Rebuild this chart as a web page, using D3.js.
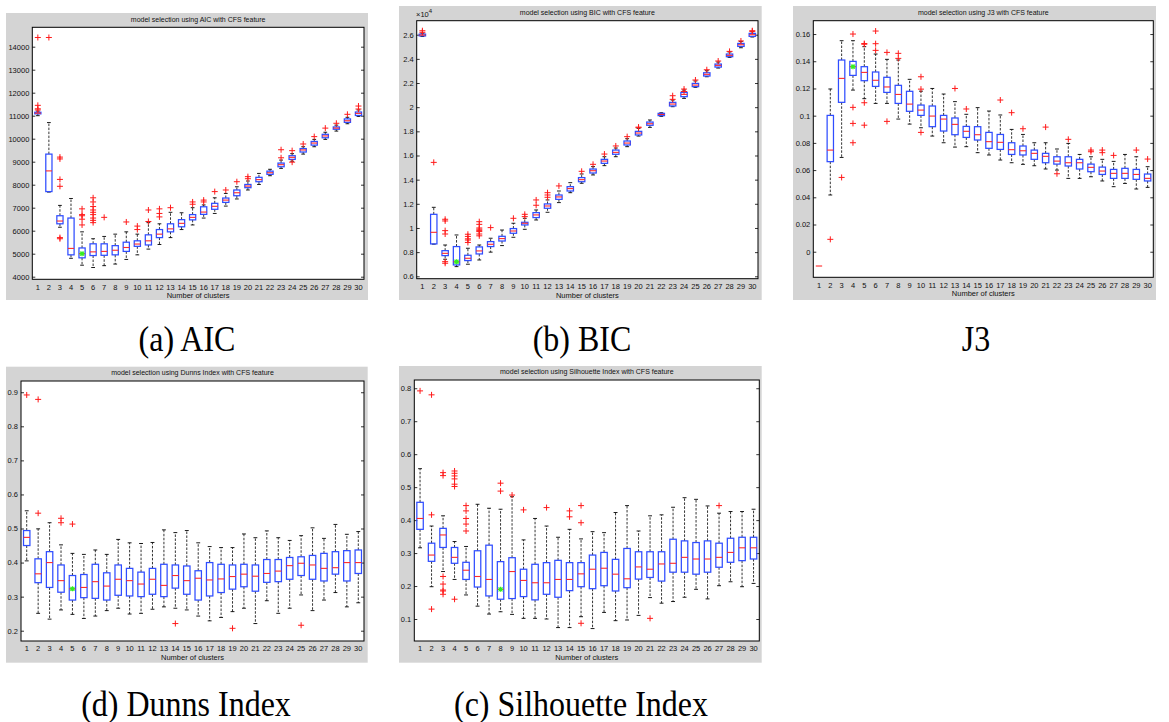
<!DOCTYPE html>
<html><head><meta charset="utf-8">
<script src="https://cdn.jsdelivr.net/npm/d3@7"></script>
<style>body{margin:0;background:#fff} svg{display:block}</style>
</head><body><svg id="c" width="1169" height="722"></svg>
<script>
const clusters = ["1","2","3","4","5","6","7","8","9","10","11","12","13","14","15","16","17","18","19","20","21","22","23","24","25","26","27","28","29","30"];

// ---- AIC ----
const aicLow  = [11000,7680,6150,4800,4500,4400,4480,4550,4750,4950,5200,5400,5700,6050,6250,6550,6750,7070,7380,7770,8010,8390,8710,9020,9330,9650,9970,10330,10650,10970];
const aicQ1   = [11080,7700,6300,4950,4820,4920,4930,4950,5100,5320,5380,5700,5950,6170,6470,6710,6930,7230,7520,7870,8130,8450,8780,9100,9420,9720,10040,10410,10710,11010];
const aicMed  = [11110,8600,6420,5230,5000,5080,5100,5150,5270,5420,5560,5850,6080,6320,6580,6810,7060,7330,7650,7940,8220,8520,8870,9190,9510,9810,10120,10460,10780,11100];
const aicQ3   = [11150,9330,6650,6550,5250,5430,5430,5350,5500,5560,5820,6050,6300,6480,6700,7040,7190,7420,7770,8010,8320,8590,8940,9260,9570,9880,10190,10510,10860,11160];
const aicHigh = [11200,10700,7100,7400,5950,5650,5750,5850,5950,5850,6350,6300,6800,6780,7000,7120,7430,7620,7910,8160,8490,8670,9070,9350,9650,9970,10280,10590,10930,11250];
const aicOut  = [[14400,11450,11300,11250],[14400],[9200,9120,8230,7930,5700,5650],[],[6950,6700,6650,6500,6250],[7430,7250,7050,6900,6800,6700,6550,6450,6350],[6580],[],[6380],[6200,6050],[6900,6400],[6950,6750,6600],[7000],[],[7250,7150],[7330,7250],[7700],[7770],[8130],[8350,8260],[],[],[9520,9170],[9480,8980],[9770],[10090],[10460],[10670],[11060],[11420,11290]];
const aicTicks = [4000,5000,6000,7000,8000,9000,10000,11000,12000,13000,14000];
const aicBest = "5";

// ---- BIC (x 10^4) ----
const bicLow  = [2.585,0.866,0.741,0.68,0.70,0.735,0.80,0.854,0.923,0.989,1.066,1.13,1.21,1.292,1.37,1.439,1.516,1.59,1.673,1.761,1.833,1.924,2.004,2.073,2.164,2.252,2.324,2.412,2.492,2.581];
const bicQ1   = [2.59,0.868,0.771,0.694,0.73,0.785,0.846,0.892,0.956,1.025,1.086,1.163,1.237,1.306,1.383,1.455,1.535,1.61,1.687,1.77,1.85,1.93,2.01,2.087,2.17,2.258,2.332,2.418,2.503,2.586];
const bicMed  = [2.597,0.964,0.79,0.72,0.749,0.81,0.865,0.912,0.975,1.039,1.108,1.182,1.257,1.326,1.4,1.474,1.554,1.626,1.703,1.786,1.863,1.94,2.026,2.106,2.183,2.272,2.346,2.429,2.517,2.6];
const bicQ3   = [2.605,1.113,0.812,0.846,0.774,0.843,0.887,0.931,0.995,1.047,1.127,1.199,1.273,1.342,1.417,1.488,1.568,1.645,1.72,1.8,1.877,1.949,2.04,2.123,2.197,2.285,2.357,2.44,2.528,2.611];
const bicHigh = [2.612,1.171,0.859,0.942,0.832,0.859,0.915,0.983,1.039,1.08,1.149,1.232,1.306,1.375,1.447,1.508,1.59,1.662,1.739,1.825,1.894,1.954,2.059,2.142,2.217,2.302,2.374,2.457,2.545,2.625];
const bicOut  = [[2.633,2.62],[1.543],[1.072,1.058,0.978,0.95,0.721,0.708],[],[0.948,0.93,0.91,0.90,0.88],[1.052,1.03,1.0,0.99,0.98,0.97,0.95,0.935],[1.003],[],[1.08],[1.113,1.094],[1.232,1.188],[1.292,1.273,1.254],[1.348],[],[1.469],[1.527],[1.612],[1.679],[1.756],[1.835,1.83],[],[],[2.095,2.065],[2.15,2.13],[2.225],[2.31],[2.382],[2.462],[2.548],[2.633,2.628]];
const bicTicks = [0.6,0.8,1,1.2,1.4,1.6,1.8,2,2.2,2.4,2.6];
const bicBest = "4";

// ---- J3 ----
const j3Low  = [-0.0105,0.0417,0.0693,0.1188,0.1125,0.109,0.109,0.0975,0.0938,0.0911,0.085,0.0801,0.0769,0.0772,0.0728,0.0711,0.0674,0.0654,0.0642,0.0632,0.0608,0.06,0.0539,0.0539,0.0551,0.052,0.0478,0.0502,0.0461,0.0473];
const j3Q1   = [-0.0105,0.0662,0.1098,0.1296,0.1257,0.1215,0.1171,0.109,0.1032,0.1002,0.0919,0.0887,0.086,0.084,0.0821,0.076,0.0752,0.0715,0.0711,0.0679,0.0654,0.0644,0.063,0.0608,0.0588,0.0568,0.0539,0.0539,0.0532,0.052];
const j3Med  = [-0.0105,0.0747,0.1274,0.136,0.1318,0.126,0.1211,0.1156,0.1085,0.1041,0.0997,0.0975,0.0936,0.0885,0.086,0.0809,0.0804,0.075,0.0742,0.0723,0.0701,0.0666,0.0654,0.0654,0.062,0.0593,0.0576,0.0576,0.0568,0.0539];
const j3Q3   = [-0.0105,0.1002,0.1409,0.1399,0.136,0.1321,0.1282,0.1223,0.1179,0.1078,0.1071,0.1002,0.0983,0.0921,0.0919,0.0877,0.0862,0.0801,0.0777,0.0747,0.0723,0.0698,0.0698,0.0679,0.0644,0.0622,0.0605,0.0613,0.0605,0.0571];
const j3High = [-0.0105,0.1196,0.1551,0.1551,0.1507,0.1453,0.1414,0.1409,0.1267,0.118,0.12,0.1159,0.1103,0.101,0.1059,0.1034,0.1005,0.0899,0.0862,0.0801,0.0801,0.0755,0.0796,0.0715,0.0698,0.0679,0.0664,0.0715,0.0698,0.0625];
const j3Out  = [[],[0.0091],[0.0546],[0.16,0.1061,0.0943,0.0801],[0.153,0.1525,0.1095,0.093],[0.1622,0.1529,0.148],[0.1465,0.0958],[0.1458,0.1421],[],[0.1286,0.1195,0.0877],[],[],[0.12],[0.1049],[],[],[0.1115],[0.1022],[0.0904],[],[0.0916],[0.0573],[0.0826],[],[0.0747,0.0735],[0.0747,0.0728],[0.0708],[],[0.0747],[0.0681]];
const j3Ticks = [0,0.02,0.04,0.06,0.08,0.1,0.12,0.14,0.16];
const j3Best = "4";

// ---- Dunns ----
const dunLow  = [0.405,0.251,0.234,0.261,0.248,0.236,0.243,0.259,0.266,0.249,0.251,0.263,0.27,0.266,0.261,0.243,0.229,0.239,0.256,0.266,0.221,0.288,0.251,0.266,0.305,0.259,0.29,0.312,0.27,0.282];
const dunQ1   = [0.45,0.341,0.327,0.313,0.29,0.297,0.295,0.29,0.304,0.302,0.3,0.307,0.3,0.325,0.307,0.29,0.302,0.312,0.322,0.329,0.316,0.342,0.344,0.351,0.362,0.351,0.346,0.366,0.346,0.368];
const dunMed  = [0.474,0.367,0.4,0.347,0.323,0.327,0.344,0.331,0.351,0.347,0.337,0.351,0.333,0.362,0.347,0.354,0.349,0.352,0.359,0.366,0.36,0.368,0.375,0.391,0.398,0.393,0.383,0.385,0.4,0.4];
const dunQ3   = [0.494,0.411,0.432,0.393,0.362,0.365,0.395,0.37,0.393,0.383,0.372,0.383,0.395,0.393,0.39,0.376,0.4,0.395,0.393,0.395,0.393,0.409,0.409,0.415,0.417,0.421,0.427,0.432,0.435,0.437];
const dunHigh = [0.552,0.499,0.517,0.452,0.427,0.424,0.437,0.424,0.468,0.458,0.456,0.459,0.496,0.488,0.494,0.458,0.447,0.444,0.444,0.484,0.473,0.493,0.473,0.465,0.479,0.502,0.471,0.512,0.483,0.491];
const dunOut  = [[0.892],[0.879,0.545],[],[0.53,0.517],[0.513],[],[],[],[],[],[],[],[],[0.221],[],[],[],[],[0.207],[],[],[],[],[],[0.216],[],[],[],[],[]];
const dunTicks = [0.2,0.3,0.4,0.5,0.6,0.7,0.8,0.9];
const dunBest = "5";

// ---- Silhouette ----
const silLow  = [0.316,0.198,0.244,0.22,0.173,0.139,0.115,0.122,0.114,0.102,0.102,0.1,0.074,0.074,0.107,0.071,0.12,0.095,0.097,0.111,0.165,0.148,0.153,0.166,0.19,0.161,0.201,0.213,0.198,0.208];
const silQ1   = [0.372,0.275,0.317,0.269,0.22,0.197,0.17,0.16,0.162,0.168,0.158,0.175,0.166,0.186,0.198,0.192,0.201,0.185,0.195,0.221,0.226,0.215,0.242,0.242,0.236,0.242,0.257,0.272,0.277,0.282];
const silMed  = [0.405,0.294,0.355,0.287,0.248,0.229,0.22,0.19,0.244,0.217,0.21,0.21,0.22,0.22,0.237,0.251,0.254,0.236,0.222,0.258,0.251,0.267,0.269,0.287,0.282,0.282,0.287,0.302,0.316,0.316];
const silQ3   = [0.454,0.33,0.375,0.317,0.272,0.307,0.324,0.274,0.286,0.251,0.266,0.271,0.278,0.271,0.271,0.294,0.302,0.281,0.314,0.304,0.304,0.304,0.342,0.337,0.332,0.337,0.33,0.345,0.348,0.348];
const silHigh = [0.556,0.382,0.413,0.335,0.32,0.448,0.436,0.433,0.471,0.34,0.405,0.382,0.348,0.372,0.343,0.365,0.362,0.423,0.444,0.367,0.413,0.416,0.439,0.468,0.463,0.443,0.421,0.426,0.426,0.433];
const silOut  = [[0.792],[0.78,0.416,0.13],[0.544,0.535,0.229,0.206,0.188,0.185,0.175],[0.549,0.542,0.534,0.525,0.509,0.502,0.16],[0.444,0.428,0.405,0.388,0.367],[],[],[0.512,0.488],[0.476],[0.431],[],[0.438],[],[0.428,0.41],[0.444,0.392,0.087],[],[],[],[],[],[0.102],[],[],[],[],[],[0.444],[],[],[]];
const silTicks = [0.1,0.2,0.3,0.4,0.5,0.6,0.7,0.8];
const silBest = "8";

const captions = ["(a) AIC","(b) BIC","J3","(d) Dunns Index","(c) Silhouette Index"];

const svg = d3.select("#c");
const FONT = "'Liberation Sans', Arial, sans-serif";

function panel(o){
  const g = svg.append("g");
  const [gx0,gy0,gx1,gy1] = o.bg;
  g.append("rect").attr("x",gx0).attr("y",gy0).attr("width",gx1-gx0).attr("height",gy1-gy0).attr("fill","#d4d4d4");
  const [L,T,R,B] = o.plot;
  g.append("rect").attr("x",L).attr("y",T).attr("width",R-L).attr("height",B-T).attr("fill","#fff");
  const x = d3.scaleBand().domain(clusters).range([L,R]);
  const y = d3.scaleLinear().domain(o.domain).range([B,T]);
  const bw = x.bandwidth()*0.56, cw = x.bandwidth()*0.34;

  const yl = g.append("g").attr("transform",`translate(${L},0)`)
    .call(d3.axisLeft(y).tickValues(o.ticks).tickSize(-3).tickPadding(3).tickFormat(o.fmt));
  const yr = g.append("g").attr("transform",`translate(${R},0)`)
    .call(d3.axisRight(y).tickValues(o.ticks).tickSize(-3).tickFormat(""));
  const xa = g.append("g").attr("transform",`translate(0,${B})`)
    .call(d3.axisBottom(x).tickSize(0).tickPadding(5));
  [yl,yr,xa].forEach(a=>{a.select(".domain").remove(); a.attr("font-family",FONT).attr("font-size",7.5);
    a.selectAll("text").attr("fill","#111"); a.selectAll("line").attr("stroke","#000").attr("stroke-width",0.8);});

  const items = clusters.map((c,i)=>({c, lo:o.low[i], q1:o.q1[i], md:o.med[i], q3:o.q3[i], hi:o.high[i], out:o.out[i]}));
  const bx = g.selectAll("g.box").data(items).join("g").attr("class","box")
    .attr("transform",d=>`translate(${x(d.c)+x.bandwidth()/2},0)`);
  bx.filter(d=>d.hi>d.q3).append("line").attr("y1",d=>y(d.q3)).attr("y2",d=>y(d.hi))
    .attr("stroke","#000").attr("stroke-width",0.8).attr("stroke-dasharray","2.5,1.5");
  bx.filter(d=>d.lo<d.q1).append("line").attr("y1",d=>y(d.q1)).attr("y2",d=>y(d.lo))
    .attr("stroke","#000").attr("stroke-width",0.8).attr("stroke-dasharray","2.5,1.5");
  bx.filter(d=>d.hi>d.lo).append("line").attr("x1",-cw/2).attr("x2",cw/2).attr("y1",d=>y(d.hi)).attr("y2",d=>y(d.hi))
    .attr("stroke","#000").attr("stroke-width",0.9);
  bx.filter(d=>d.hi>d.lo).append("line").attr("x1",-cw/2).attr("x2",cw/2).attr("y1",d=>y(d.lo)).attr("y2",d=>y(d.lo))
    .attr("stroke","#000").attr("stroke-width",0.9);
  bx.filter(d=>d.q3>d.q1).append("rect").attr("x",-bw/2).attr("width",bw)
    .attr("y",d=>y(d.q3)).attr("height",d=>Math.max(0.5,y(d.q1)-y(d.q3)))
    .attr("fill","none").attr("stroke","#2f4dff").attr("stroke-width",1.25);
  bx.append("line").attr("x1",-bw/2).attr("x2",bw/2).attr("y1",d=>y(d.md)).attr("y2",d=>y(d.md))
    .attr("stroke","#ff2a2a").attr("stroke-width",1.1);
  bx.selectAll("path.o").data(d=>d.out).join("path").attr("class","o")
    .attr("d",v=>`M-3,${y(v)}h6M0,${y(v)-3}v6`).attr("stroke","#ff1a1a").attr("stroke-width",1).attr("fill","none");
  // best k green star
  const bi = clusters.indexOf(o.best);
  const sx = x(o.best)+x.bandwidth()/2, sy = y(o.med[bi]);
  g.append("path").attr("d",`M${sx-2.5},${sy}h5M${sx},${sy-2.5}v5M${sx-2},${sy-2}l4,4M${sx-2},${sy+2}l4,-4`)
    .attr("stroke","#33ee22").attr("stroke-width",1.2);

  g.append("rect").attr("x",L).attr("y",T).attr("width",R-L).attr("height",B-T).attr("fill","none").attr("stroke","#000").attr("stroke-width",1);
  g.append("text").attr("x",(L+R)/2).attr("y",o.titleY).attr("text-anchor","middle")
    .attr("font-family",FONT).attr("font-size",7).attr("fill","#111").text(o.title);
  g.append("text").attr("x",(L+R)/2).attr("y",B+19).attr("text-anchor","middle")
    .attr("font-family",FONT).attr("font-size",7.5).attr("fill","#111").text("Number of clusters");
  g.append("text").attr("transform",`translate(${o.cap[0]},${o.cap[1]}) scale(1,1.1)`).attr("text-anchor","middle")
    .attr("font-family","'Liberation Serif','Times New Roman',serif").attr("font-size",32).attr("fill","#000").text(o.caption);
  return {g,L,T};
}

const fmt1 = v => String(+v.toFixed(2));
panel({bg:[6,13,368,300], plot:[32.3,27.3,364,279.3], domain:[3887,14843], ticks:aicTicks, fmt:d3.format("d"),
  low:aicLow,q1:aicQ1,med:aicMed,q3:aicQ3,high:aicHigh,out:aicOut,best:aicBest,
  title:"model selection using AIC with CFS feature", titleY:21.5, caption:captions[0], cap:[187,351]});
const pb = panel({bg:[399,6,761.7,300], plot:[416.7,20.7,758,278.7], domain:[0.58,2.716], ticks:bicTicks, fmt:fmt1,
  low:bicLow,q1:bicQ1,med:bicMed,q3:bicQ3,high:bicHigh,out:bicOut,best:bicBest,
  title:"model selection using BIC with CFS feature", titleY:14.5, caption:captions[1], cap:[582,351]});
const ex = pb.g.append("text").attr("x",416).attr("y",17).attr("font-family",FONT).attr("font-size",7.5).attr("fill","#111");
ex.append("tspan").text("\u00d710");
ex.append("tspan").attr("dy",-4).attr("font-size",6).text("4");
panel({bg:[793,6,1156,300], plot:[813.3,20.7,1153.3,277.3], domain:[-0.0188,0.1698], ticks:j3Ticks, fmt:fmt1,
  low:j3Low,q1:j3Q1,med:j3Med,q3:j3Q3,high:j3High,out:j3Out,best:j3Best,
  title:"model selection using J3 with CFS feature", titleY:14.5, caption:captions[2], cap:[976,351]});
panel({bg:[6,366.7,367.7,662.7], plot:[21,381,364,641], domain:[0.1698,0.933], ticks:dunTicks, fmt:fmt1,
  low:dunLow,q1:dunQ1,med:dunMed,q3:dunQ3,high:dunHigh,out:dunOut,best:dunBest,
  title:"model selection using Dunns Index with CFS feature", titleY:375, caption:captions[3], cap:[186,716]});
panel({bg:[399,366,761.7,662.7], plot:[414.3,380,759.3,641], domain:[0.0333,0.825], ticks:silTicks, fmt:fmt1,
  low:silLow,q1:silQ1,med:silMed,q3:silQ3,high:silHigh,out:silOut,best:silBest,
  title:"model selection using Silhouette Index with CFS feature", titleY:374, caption:captions[4], cap:[581,716]});
</script></body></html>
